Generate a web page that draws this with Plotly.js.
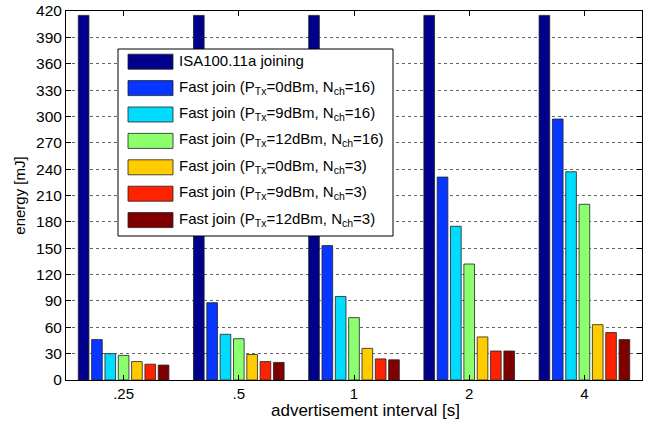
<!DOCTYPE html>
<html><head><meta charset="utf-8">
<script src="https://cdn.plot.ly/plotly-3.0.1.min.js"></script>
<style>html,body{margin:0;padding:0;background:#fff}#c{width:649px;height:422px}</style>
</head><body><div id="c"></div>
<script>
const intervals = ['.25', '.5', '1', '2', '4'];
const seriesNames = [
  'ISA100.11a joining',
  'Fast join (P<sub>Tx</sub>=0dBm, N<sub>ch</sub>=16)',
  'Fast join (P<sub>Tx</sub>=9dBm, N<sub>ch</sub>=16)',
  'Fast join (P<sub>Tx</sub>=12dBm, N<sub>ch</sub>=16)',
  'Fast join (P<sub>Tx</sub>=0dBm, N<sub>ch</sub>=3)',
  'Fast join (P<sub>Tx</sub>=9dBm, N<sub>ch</sub>=3)',
  'Fast join (P<sub>Tx</sub>=12dBm, N<sub>ch</sub>=3)'
];
const xTitle = 'advertisement interval [s]';
const yTitle = 'energy [mJ]';
const isaJoining   = [415, 415, 415, 415, 415];
const fj0dBm16     = [46, 88, 153, 231, 297];
const fj9dBm16     = [30, 52, 95, 175, 237];
const fj12dBm16    = [28, 47, 71, 132, 200];
const fj0dBm3      = [21, 29, 36, 49, 63];
const fj9dBm3      = [18, 21, 24, 33, 54];
const fj12dBm3     = [17, 20, 23, 33, 46];
const seriesValues = [isaJoining, fj0dBm16, fj9dBm16, fj12dBm16, fj0dBm3, fj9dBm3, fj12dBm3];
const colors = ['#00008C', '#0636FF', '#00DCFF', '#8CFF6E', '#FFCC00', '#FF2200', '#800000'];

const traces = seriesValues.map((v, i) => ({
  type: 'bar', x: intervals, y: v, name: seriesNames[i],
  marker: {color: colors[i], line: {color: '#222', width: 0.8}},
  showlegend: false, hoverinfo: 'skip'
}));

// plot area in pixels
const L = 66, R = 642, T = 11, B = 380;
const px = x => (x - L) / (R - L);
const py = y => (B - y) / (B - T);
const FONT = 'Liberation Sans, Arial, Helvetica, sans-serif';

const shapes = [{
  type: 'rect', xref: 'paper', yref: 'paper', layer: 'above',
  x0: px(118), x1: px(393), y0: py(236), y1: py(49),
  fillcolor: '#fff', line: {color: '#000', width: 1}
}];
const annotations = [];
seriesNames.forEach((n, i) => {
  const cy = 61.7 + i * 26.4;
  shapes.push({
    type: 'rect', xref: 'paper', yref: 'paper', layer: 'above',
    x0: px(128), x1: px(173), y0: py(cy + 7.5), y1: py(cy - 7.5),
    fillcolor: colors[i], line: {color: '#222', width: 0.8}
  });
  annotations.push({
    xref: 'paper', yref: 'paper', x: px(177), y: py(cy - 1), xanchor: 'left', yanchor: 'middle',
    text: n, showarrow: false, font: {size: 15, color: '#000', family: FONT}
  });
});
annotations.push({
  xref: 'paper', yref: 'paper', x: px(365), y: py(411), xanchor: 'center', yanchor: 'middle',
  text: xTitle, showarrow: false, font: {size: 17, color: '#000', family: FONT}
});

const layout = {
  width: 649, height: 422,
  margin: {l: L, r: 649 - R, t: T, b: 422 - B},
  paper_bgcolor: '#fff', plot_bgcolor: '#fff',
  font: {family: FONT, size: 15, color: '#000'},
  barmode: 'group', bargap: 0.19, bargroupgap: 0.2,
  showlegend: false,
  xaxis: {
    type: 'category', showline: true, linecolor: '#000', linewidth: 1, mirror: 'allticks',
    ticks: 'inside', ticklen: 5, tickcolor: '#000', showgrid: false,
    tickfont: {size: 15}
  },
  yaxis: {
    range: [0, 420], dtick: 30, tick0: 0, showline: true, linecolor: '#000', linewidth: 1, mirror: 'allticks',
    ticks: 'inside', ticklen: 5, tickcolor: '#000',
    showgrid: true, gridcolor: '#666', griddash: 'dot', gridwidth: 1, zeroline: false,
    title: {text: yTitle, font: {size: 15}, standoff: 6},
    tickfont: {size: 15.5}
  },
  shapes: shapes,
  annotations: annotations
};
Plotly.newPlot('c', traces, layout, {staticPlot: true, displayModeBar: false});
</script></body></html>
